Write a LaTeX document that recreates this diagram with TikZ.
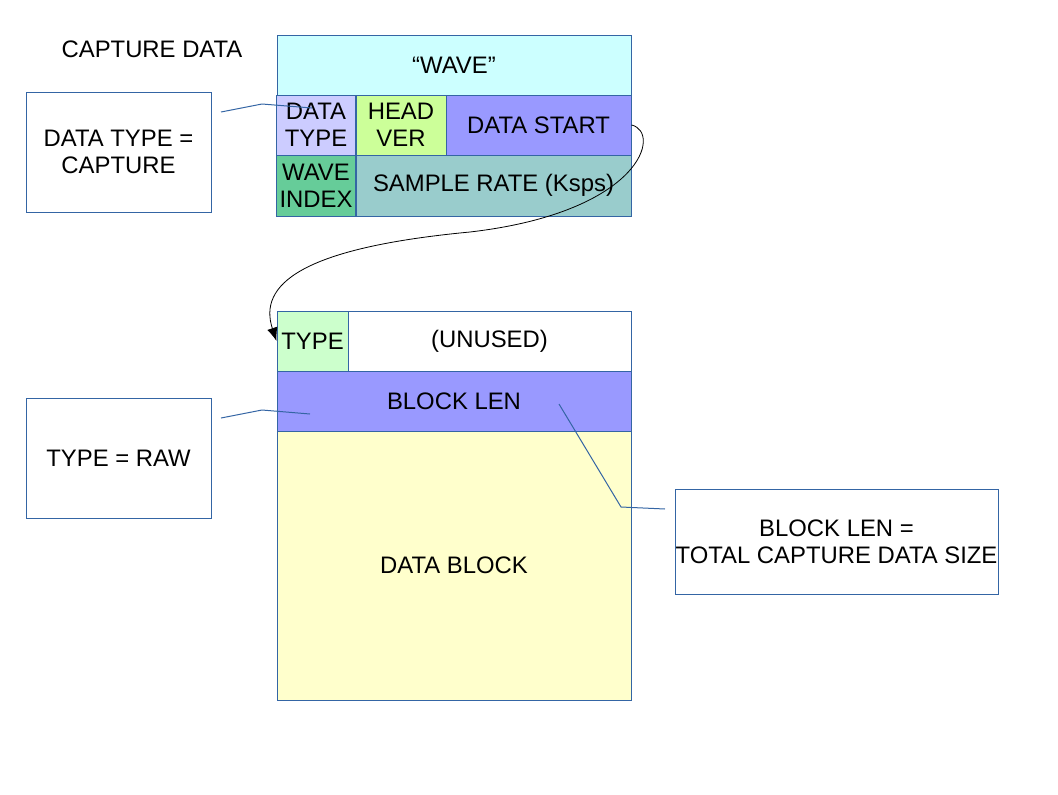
\documentclass[tikz,border=0pt]{standalone}
\usepackage{fontspec}
\setmainfont{Liberation Sans}
\usetikzlibrary{arrows.meta}
\definecolor{edge}{HTML}{3465A4}
\definecolor{cWave}{HTML}{CCFFFF}
\definecolor{cDtype}{HTML}{CCCCFF}
\definecolor{cHver}{HTML}{CCFF99}
\definecolor{cBlue}{HTML}{9999FF}
\definecolor{cWindex}{HTML}{66CC99}
\definecolor{cSrate}{HTML}{99CCCC}
\definecolor{cType}{HTML}{CCFFCC}
\definecolor{cData}{HTML}{FFFFCC}
\tikzset{
  txt/.style={font=\fontsize{17.9pt}{20.2pt}\selectfont},
  cell/.style={txt, draw=edge, line width=0.75pt, inner sep=0pt, align=center},
  note/.style={cell, fill=white},
  leader/.style={draw=edge, line width=0.75pt},
  pointer/.style={draw=black, line width=0.6pt, -{Latex[length=10pt,width=8pt]}},
}
\begin{document}
\begin{tikzpicture}[x=0.75pt, y=-0.75pt]
  \useasboundingbox (0,0) rectangle (1058,794);

  % header record
  \node[txt] (title) at (152,49) {CAPTURE DATA};
  \node[cell, fill=cWave, minimum width=265.5pt, minimum height=45pt] (wave) at (454,65) {“WAVE”};
  \node[cell, fill=cDtype, minimum width=59.25pt, minimum height=45pt] (dtype) at (316,125) {DATA\\TYPE};
  \node[cell, fill=cHver, minimum width=67.5pt, minimum height=45pt] (hver) at (401,125) {HEAD\\VER};
  \node[cell, fill=cBlue, minimum width=138.75pt, minimum height=45pt] (dstart) at (538.5,125) {DATA START};
  \node[cell, fill=cWindex, minimum width=59.25pt, minimum height=45.75pt] (windex) at (316,185.5) {WAVE\\INDEX};
  \node[cell, fill=cSrate, minimum width=206.25pt, minimum height=45.75pt] (srate) at (493.5,185.5) {SAMPLE RATE (Ksps)};

  % data record
  \node[cell, fill=cType, minimum width=53.25pt, minimum height=45pt] (type) at (312.5,341) {TYPE};
  \node[cell, fill=white, minimum width=212.25pt, minimum height=45pt] (unused) at (489.5,341) {(UNUSED)};
  \node[cell, fill=cBlue, minimum width=265.5pt, minimum height=45pt] (blen) at (454,401) {BLOCK LEN};
  \node[cell, fill=cData, minimum width=265.5pt, minimum height=201.75pt] (dblock) at (454,565.5) {DATA BLOCK};

  % annotations
  \node[note, minimum width=138.75pt, minimum height=90pt] (n1) at (118.5,152) {DATA TYPE =\\CAPTURE};
  \node[note, minimum width=138.75pt, minimum height=90pt] (n2) at (118.5,458) {TYPE = RAW};
  \node[note, minimum width=242.25pt, minimum height=78.75pt] (n3) at (836.5,541.5) {BLOCK LEN =\\TOTAL CAPTURE DATA SIZE};

  % leader lines
  \coordinate (n1tip) at (221,112);
  \coordinate (dtypetip) at (312,108);
  \draw[leader] (n1tip) -- (262,104) -- (dtypetip);
  \coordinate (n2tip) at (221,418);
  \coordinate (typetip) at (310,414);
  \draw[leader] (n2tip) -- (262,410) -- (typetip);
  \coordinate (blentip) at (559,404);
  \coordinate (n3tip) at (665,509);
  \draw[leader] (blentip) -- (621,507) -- (n3tip);

  % data start offset points at the data record
  \draw[pointer] (dstart.east) .. controls (662,132) and (642,212) .. (470,232)
    .. controls (300,248) and (258,285) .. (type.west);
\end{tikzpicture}
\end{document}
